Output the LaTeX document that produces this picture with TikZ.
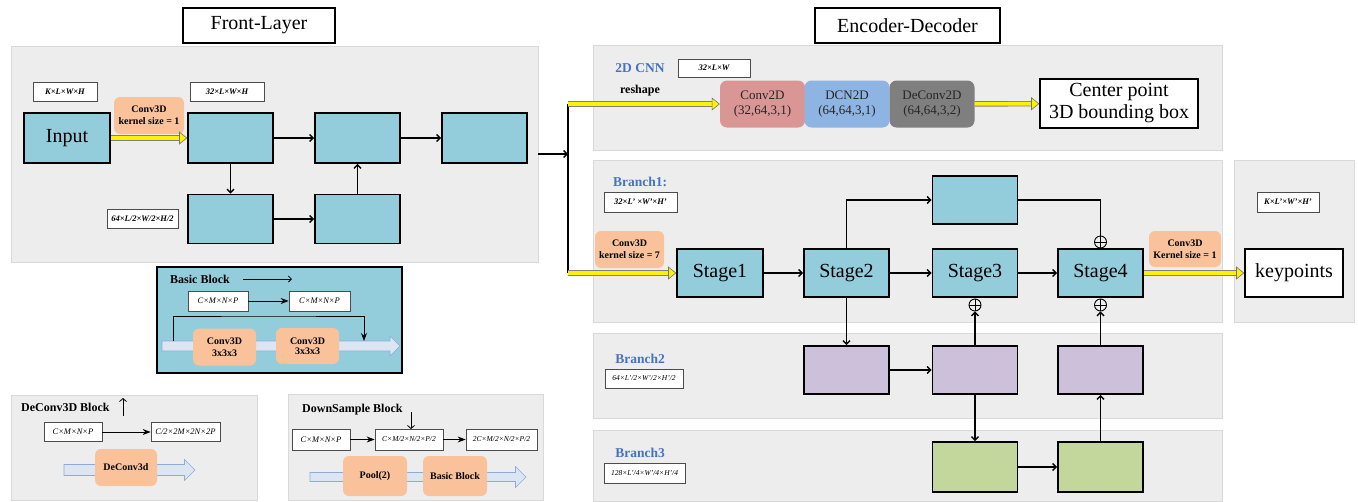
\documentclass[tikz,border=0pt]{standalone}
\usepackage{fontspec}
\setmainfont{Liberation Serif}
\usepackage{xcolor}
\usepackage{tikz}
\usetikzlibrary{arrows.meta}

\definecolor{panelgray}{HTML}{EDEDED}
\definecolor{cyanblock}{HTML}{93CDDC}
\definecolor{orangebox}{HTML}{F9C29A}
\definecolor{convred}{HTML}{D99694}
\definecolor{dcnblue}{HTML}{8EB4E3}
\definecolor{deconvgray}{HTML}{7F7F7F}
\definecolor{purpleblock}{HTML}{CCC0DA}
\definecolor{greenblock}{HTML}{C3D69B}
\definecolor{branchblue}{HTML}{4472C4}
\definecolor{fatfill}{HTML}{DCE6F2}
\definecolor{fatdraw}{HTML}{8EA9DB}

% wide hollow arrow: x start, x tip, y, half shaft, half head
\newcommand{\fatarrow}[5]{%
  \filldraw[fill=fatfill, draw=fatdraw, line width=0.6pt]
    (#1,#3-#4) -- (#2-#5,#3-#4) -- (#2-#5,#3-#5) -- (#2,#3)
    -- (#2-#5,#3+#5) -- (#2-#5,#3+#4) -- (#1,#3+#4) -- cycle;}

\begin{document}
\begin{tikzpicture}[
    x=1pt, y=-1pt,
    panel/.style={draw=black!15, line width=0.8pt, fill=panelgray, inner sep=0pt},
    titlebox/.style={draw=black, line width=1.4pt, fill=white, minimum width=152pt,
      minimum height=35pt, inner sep=0pt, font=\fontsize{20}{22}\selectfont},
    block/.style={draw=black, line width=1.6pt, fill=cyanblock, minimum width=85pt,
      minimum height=48pt, inner sep=0pt, font=\fontsize{20}{22}\selectfont},
    branchblock/.style={block, fill=purpleblock},
    lowblock/.style={block, fill=greenblock, minimum height=50pt},
    outbox/.style={draw=black, line width=1.6pt, fill=white, align=center,
      inner sep=0pt, font=\fontsize{20}{22}\selectfont},
    opbox/.style={rounded corners=6pt, fill=orangebox, align=center, inner sep=0pt,
      font=\fontsize{10}{12}\selectfont\bfseries},
    layer/.style={rounded corners=7pt, align=center, inner sep=0pt, minimum width=85pt,
      minimum height=47pt, text=black!85, font=\fontsize{13}{15}\selectfont},
    dimlabel/.style={draw=black!70, line width=0.7pt, fill=white, inner sep=0pt,
      minimum height=19pt, font=\fontsize{8.5}{9}\selectfont\bfseries\itshape},
    legdim/.style={dimlabel, font=\fontsize{8.5}{9}\selectfont\itshape},
    branchdim/.style={dimlabel, font=\fontsize{7.5}{8}\selectfont\itshape},
    branchname/.style={text=branchblue, font=\fontsize{13.5}{15}\selectfont\bfseries},
    legtitle/.style={anchor=west, inner sep=0pt, font=\fontsize{12}{14}\selectfont\bfseries},
    sumnode/.style={circle, draw=black, line width=0.9pt, fill=panelgray, minimum size=12pt,
      inner sep=0pt, path picture={
        \draw[line width=0.9pt] (path picture bounding box.north) -- (path picture bounding box.south)
          (path picture bounding box.west) -- (path picture bounding box.east);}},
    conn/.style={line width=1.4pt, -{Straight Barb[length=3.5pt,width=7pt]}},
    legarrow/.style={line width=1pt, -{Stealth[length=8pt,width=6pt]}},
    yarrow/.style={draw=yellow, line width=3.6pt,
      -{Triangle[length=8pt,width=13pt,fill=yellow,color=black!55,line width=0.6pt]},
      preaction={draw=black!50, line width=5.4pt, -{}, shorten >=6pt}}
  ]
  \useasboundingbox (0,0) rectangle (1358,501);

  \node[titlebox] (fronttitle) at (259,25.5) {Front-Layer};
  \node[titlebox, minimum width=185pt] (enctitle) at (907.5,25.5) {Encoder-Decoder};

  \node[panel, minimum width=527pt, minimum height=216pt] (front) at (274.5,154) {};
  \node[panel, minimum width=629pt, minimum height=105pt] (cnnpanel) at (907.5,97.5) {};
  \node[panel, minimum width=629pt, minimum height=162pt] (branch1panel) at (907.5,241) {};
  \node[panel, minimum width=120pt, minimum height=162pt] (keypanel) at (1294,241) {};
  \node[panel, minimum width=629pt, minimum height=85pt] (branch2panel) at (907.5,375.5) {};
  \node[panel, minimum width=629pt, minimum height=71pt] (branch3panel) at (907.5,466) {};
  \node[panel, minimum width=246pt, minimum height=105pt] (deconvpanel) at (134,447.5) {};
  \node[panel, minimum width=255pt, minimum height=106pt] (downpanel) at (415.5,447) {};
  \node[draw=black, line width=1.6pt, fill=cyanblock, minimum width=245pt,
    minimum height=106pt] (basicpanel) at (279.5,320) {};

  \node[block, minimum width=86pt, minimum height=50pt] (input) at (67,138) {Input};
  \node[block, minimum height=50pt] (fa) at (230.5,138) {};
  \node[block, minimum height=50pt] (fb) at (357.5,138) {};
  \node[block, minimum height=50pt] (fc) at (484.5,138) {};
  \node[block, minimum height=49pt] (fd) at (230.5,219) {};
  \node[block, minimum height=49pt] (fe) at (357.5,219) {};
  \node[dimlabel, minimum width=64pt] (dimin) at (65,92) {K×L×W×H};
  \node[dimlabel, minimum width=74pt] (dimfa) at (227,92) {32×L×W×H};
  \node[dimlabel, minimum width=71pt] (dimfd) at (142.5,219) {64×L/2×W/2×H/2};
  \node[opbox, minimum width=70pt, minimum height=37pt] (conva) at (149,115.5) {Conv3D\\kernel size = 1};
  \draw[yarrow] (input) -- (fa);
  \draw[conn] (fa) -- (fb);
  \draw[conn] (fb) -- (fc);
  \draw[conn] (fa) -- (fd);
  \draw[conn] (fd) -- (fe);
  \draw[conn] (fe) -- (fb);

  \coordinate (split) at (568,154);
  \coordinate (splittop) at (568,104);
  \coordinate (splitbot) at (568,273);
  \draw[conn] (front.east) -- (split);
  \draw[line width=1.4pt] (splittop) -- (splitbot);

  \node[branchname] (cnnname) at (640,68) {2D CNN};
  \node[dimlabel, minimum width=72pt, minimum height=18pt] (dimcnn) at (714,68) {32×L×W};
  \node[font=\fontsize{12}{14}\selectfont\bfseries] (reshape) at (640,91) {reshape};
  \node[layer, fill=convred] (conv2d) at (762.5,104) {Conv2D\\(32,64,3,1)};
  \node[layer, fill=dcnblue] (dcn2d) at (847,104) {DCN2D\\(64,64,3,1)};
  \node[layer, fill=deconvgray] (deconv2d) at (932,104) {DeConv2D\\(64,64,3,2)};
  \node[outbox, minimum width=158pt, minimum height=49pt] (bbox) at (1119,103.5) {Center point\\3D bounding box};
  \draw[yarrow] (splittop) -- (conv2d);
  \draw[yarrow] (deconv2d) -- (bbox);

  \node[branchname] (b1name) at (640,182) {Branch1:};
  \node[dimlabel, minimum width=73pt, minimum height=20pt] (dimb1) at (640.5,202) {32×L' ×W'×H'};
  \node[opbox, minimum width=69pt, minimum height=37pt] (convb) at (629.5,249.5) {Conv3D\\kernel size = 7};
  \node[block, minimum width=86pt] (stage1) at (720,273) {Stage1};
  \node[block] (stage2) at (846.5,273) {Stage2};
  \node[block] (stage3) at (975,273) {Stage3};
  \node[block] (stage4) at (1100.5,273) {Stage4};
  \node[block] (upper) at (975,200) {};
  \node[sumnode] (sumtop) at (1100.5,242) {};
  \node[sumnode] (sumthree) at (975,305) {};
  \node[sumnode] (sumfour) at (1100.5,305) {};
  \node[opbox, minimum width=72pt, minimum height=36pt] (convc) at (1185,249) {Conv3D\\Kernel size = 1};
  \node[outbox, minimum width=98pt, minimum height=48pt] (keypoints) at (1294,273) {keypoints};
  \node[dimlabel, minimum width=62pt, minimum height=20pt] (dimkey) at (1288,202) {K×L'×W'×H'};
  \draw[yarrow] (splitbot) -- (stage1);
  \draw[conn] (stage1) -- (stage2);
  \draw[conn] (stage2) -- (stage3);
  \draw[conn] (stage3) -- (stage4);
  \draw[conn] (stage2.north) |- (upper.west);
  \draw[line width=1.4pt] (upper.east) -| (sumtop.north);
  \draw[yarrow] (stage4) -- (keypoints);

  \node[branchname] (b2name) at (640,359) {Branch2};
  \node[branchdim, minimum width=78pt] (dimb2) at (644,378.5) {64×L'/2×W'/2×H'/2};
  \node[branchblock] (pa) at (846.5,370) {};
  \node[branchblock] (pb) at (975,370) {};
  \node[branchblock] (pc) at (1100.5,370) {};

  \node[branchname] (b3name) at (640,453) {Branch3};
  \node[branchdim, minimum width=81pt, minimum height=20pt] (dimb3) at (644.5,473) {128×L'/4×W'/4×H'/4};
  \node[lowblock] (ga) at (975,467) {};
  \node[lowblock] (gb) at (1100.5,467) {};

  \draw[conn] (stage2.south) -- (pa.north);
  \draw[conn] (pa) -- (pb);
  \draw[conn] (pb.north) -- (sumthree.south);
  \draw[conn] (pb.south) -- (ga.north);
  \draw[conn] (ga) -- (gb);
  \draw[conn] (gb.north) -- (pc.south);
  \draw[conn] (pc.north) -- (sumfour.south);

  \node[legtitle] (basictitle) at (170,279) {Basic Block};
  \coordinate (basicfrom) at (243,279);
  \coordinate (basicto) at (292,279);
  \draw[line width=0.8pt, -{Straight Barb[length=3pt,width=6pt]}] (basicfrom) -- (basicto);
  \node[legdim, minimum width=60pt, minimum height=20pt] (basicin) at (218,301) {C×M×N×P};
  \node[legdim, minimum width=61pt, minimum height=20pt] (basicout) at (319.5,301) {C×M×N×P};
  \draw[legarrow] (basicin) -- (basicout);
  \fatarrow{162}{400}{346}{5}{10}
  \coordinate (skipfrom) at (173,341);
  \coordinate (skipto) at (364,341);
  \draw[line width=1pt, -{Stealth[length=8pt,width=6pt]}] (skipfrom) |- (268.5,316) -| (skipto);
  \node[opbox, minimum width=63pt, minimum height=37pt] (basicconva) at (224.5,347) {Conv3D\\3x3x3};
  \node[opbox, minimum width=63pt, minimum height=36pt, font=\fontsize{10}{10}\selectfont\bfseries]
    (basicconvb) at (307.5,346) {Conv3D\\3x3x3};

  \node[legtitle] (deconvtitle) at (21,407) {DeConv3D Block};
  \coordinate (upfrom) at (123,416);
  \coordinate (upto) at (123,398);
  \draw[line width=0.8pt, -{Straight Barb[length=3pt,width=7pt]}] (upfrom) -- (upto);
  \node[legdim, minimum width=58pt] (deconvin) at (73,432) {C×M×N×P};
  \node[legdim, minimum width=69pt] (deconvout) at (185.5,432) {C/2×2M×2N×2P};
  \draw[legarrow] (deconvin) -- (deconvout);
  \fatarrow{64}{195}{470}{5.5}{10.5}
  \node[opbox, minimum width=62pt, minimum height=37pt] (deconvop) at (126,467.5) {DeConv3d};

  \node[legtitle] (downtitle) at (302,410) {DownSample Block};
  \coordinate (downfrom) at (411,412);
  \coordinate (downto) at (411,429);
  \draw[line width=0.8pt, -{Straight Barb[length=3pt,width=7pt]}] (downfrom) -- (downto);
  \node[legdim, minimum width=58pt, minimum height=21pt] (downa) at (321,439.5) {C×M×N×P};
  \node[legdim, minimum width=68pt, minimum height=21pt, font=\fontsize{7.5}{9}\selectfont\itshape]
    (downb) at (409,439.5) {C×M/2×N/2×P/2};
  \node[legdim, minimum width=71pt, minimum height=21pt, font=\fontsize{7.5}{9}\selectfont\itshape]
    (downc) at (501.5,439.5) {2C×M/2×N/2×P/2};
  \draw[legarrow] (downa) -- (downb);
  \draw[legarrow] (downb) -- (downc);
  \fatarrow{310}{526}{477}{4.5}{10.5}
  \node[opbox, minimum width=64pt, minimum height=40pt] (pool) at (375,476) {Pool(2)};
  \node[opbox, minimum width=64pt, minimum height=40pt] (downbasic) at (455,476) {Basic Block};
\end{tikzpicture}
\end{document}
